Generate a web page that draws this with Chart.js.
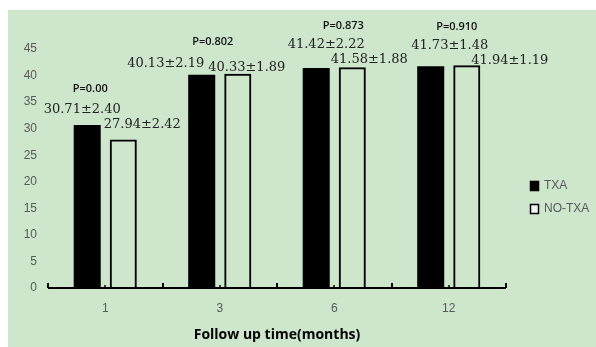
<!DOCTYPE html>
<html>
<head>
<meta charset="utf-8">
<script src="https://cdn.jsdelivr.net/npm/chart.js@4.4.0/dist/chart.umd.min.js"></script>
<style>
  html, body { margin: 0; padding: 0; background: #ffffff; }
  #wrap { width: 596px; height: 347px; }
</style>
</head>
<body>
<div id="wrap"><canvas id="myChart" width="596" height="347"></canvas></div>
<script>
// ---------------- data
var months = ['1', '3', '6', '12'];
var txaMean = [30.71, 40.13, 41.42, 41.73];
var txaSd = [2.40, 2.19, 2.22, 1.48];
var noTxaMean = [27.94, 40.33, 41.58, 41.94];
var noTxaSd = [2.42, 1.89, 1.88, 1.19];
var pValues = ['P=0.00', 'P=0.802', 'P=0.873', 'P=0.910'];
var yTicks = [0, 5, 10, 15, 20, 25, 30, 35, 40, 45];

function meanSd(m, s){
    return m.toFixed(2) + '\u00b1' + s.toFixed(2);
};

var GREY = '#595959';
var BG = '#cde6cc';

// ---------------- label offsets from the bar top (hand placed, like the original)
var valueOffsets = [
    [[-5, -15], [19, -15]],
    [[-36, -11], [9, -6]],
    [[10, -23], [17, -8]],
    [[19, -21], [43, -5]]
];
var pOffsets = [[-15, -36], [-7, -32], [9, -41], [8, -38]];

// background panel
var bgPlugin = {
    id: 'bgPanel',
    beforeDraw: function(chart){
        var ctx = chart.ctx;
        ctx.save();
        ctx.fillStyle = BG;
        ctx.fillRect(8, 10, chart.width - 8, chart.height - 10);
        ctx.restore();
    }
};

// x axis line with small up ticks
var axisPlugin = {
    id: 'axisTicks',
    afterDatasetsDraw: function(chart){
        var ctx = chart.ctx, xs = chart.scales.x, ys = chart.scales.y;
        var y0 = ys.getPixelForValue(0);
        var n = months.length;
        var step = (xs.right - xs.left) / n;
        ctx.save();
        ctx.strokeStyle = '#000';
        ctx.lineWidth = 2;
        ctx.beginPath();
        ctx.moveTo(xs.left, y0);
        ctx.lineTo(xs.right, y0);
        for(var i=0; i<=n; i++){
            var bx = Math.round(xs.left + i*step);
            ctx.moveTo(bx, y0);
            ctx.lineTo(bx, y0 - 5);
        }
        ctx.stroke();
        ctx.lineWidth = 1.5;
        ctx.beginPath();
        for(var i=0; i<n; i++){
            var cx = Math.round(xs.getPixelForValue(i));
            ctx.moveTo(cx, y0);
            ctx.lineTo(cx, y0 - 3);
        }
        ctx.stroke();
        ctx.restore();
    }
};

// mean +- sd text and P values
var labelPlugin = {
    id: 'valueLabels',
    afterDraw: function(chart){
        var ctx = chart.ctx;
        var m0 = chart.getDatasetMeta(0).data;
        var m1 = chart.getDatasetMeta(1).data;
        ctx.save();
        ctx.textAlign = 'center';
        ctx.textBaseline = 'middle';
        ctx.fillStyle = '#222';
        ctx.font = '13px "DejaVu Serif"';
        for(var i=0; i<months.length; i++){
            var a = m0[i], b = m1[i];
            ctx.fillText(meanSd(txaMean[i], txaSd[i]), a.x + valueOffsets[i][0][0], a.y + valueOffsets[i][0][1]);
            ctx.fillText(meanSd(noTxaMean[i], noTxaSd[i]), b.x + valueOffsets[i][1][0], b.y + valueOffsets[i][1][1]);
        }
        ctx.font = '600 11px "Open Sans"';
        ctx.fillStyle = '#111';
        var xs = chart.scales.x;
        for(var i=0; i<months.length; i++){
            var top = Math.min(m0[i].y, m1[i].y);
            ctx.fillText(pValues[i], xs.getPixelForValue(i) + pOffsets[i][0], top + pOffsets[i][1]);
        }
        ctx.restore();
    }
};

// legend at the right
var legendPlugin = {
    id: 'sideLegend',
    afterDraw: function(chart){
        var ctx = chart.ctx;
        var items = chart.data.datasets;
        ctx.save();
        ctx.font = '12px "Liberation Sans"';
        ctx.textBaseline = 'middle';
        for(var i=0; i<items.length; i++){
            var y = 186 + i*23;
            ctx.fillStyle = items[i].backgroundColor === 'transparent' ? '#eef7ee' : items[i].backgroundColor;
            ctx.fillRect(530, y - 5, 9, 10);
            ctx.strokeStyle = '#000';
            ctx.lineWidth = 1.5;
            ctx.strokeRect(530.5, y - 4.5, 8, 9);
            ctx.fillStyle = GREY;
            ctx.fillText(items[i].label, 544, y);
        }
        ctx.restore();
    }
};

var ctx = document.getElementById('myChart');
var myChart = new Chart(ctx, {
    type: 'bar',
    data: {
        labels: months,
        datasets: [
            {label: 'TXA', data: txaMean, backgroundColor: '#000000',
             borderColor: '#000000', borderWidth: 0},
            {label: 'NO-TXA', data: noTxaMean, backgroundColor: 'transparent',
             borderColor: '#000000', borderWidth: 2, borderSkipped: 'bottom'}
        ]
    },
    options: {
        responsive: false,
        animation: false,
        layout: {padding: {top: 49, right: 90, left: 8, bottom: 0}},
        datasets: {bar: {categoryPercentage: 0.63, barPercentage: 0.75}},
        plugins: {legend: {display: false}, tooltip: {enabled: false}},
        scales: {
            x: {
                offset: true,
                grid: {display: false, drawTicks: false},
                border: {display: false},
                ticks: {color: GREY, font: {family: 'Liberation Sans', size: 12}, padding: 13},
                title: {display: true, text: 'Follow up time(months)', color: '#000',
                        font: {family: 'Open Sans', size: 14, weight: 'bold'}, padding: {top: 8}},
                afterFit: function(s){ s.height = 59; }
            },
            y: {
                min: 0, max: 45,
                grid: {display: false, drawTicks: false},
                border: {display: false},
                afterBuildTicks: function(s){ s.ticks = yTicks.map(function(v){ return {value: v}; }); },
                ticks: {color: GREY, font: {family: 'Liberation Sans', size: 12}, padding: 11},
                afterFit: function(s){ s.width = 40; }
            }
        }
    },
    plugins: [bgPlugin, axisPlugin, labelPlugin, legendPlugin]
});
</script>
</body>
</html>
